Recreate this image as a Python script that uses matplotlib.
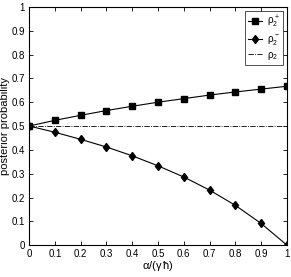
import numpy as np
import matplotlib.pyplot as plt

x = [0, 0.1, 0.2, 0.3, 0.4, 0.5, 0.6, 0.7, 0.8, 0.9, 1.0]
rho_plus = [0.5, 0.524, 0.545, 0.565, 0.583, 0.6, 0.615, 0.63, 0.643, 0.655, 0.667]
rho_minus = [0.5, 0.474, 0.444, 0.412, 0.375, 0.333, 0.286, 0.231, 0.167, 0.091, 0.0]
rho_half = [0.5] * len(x)
ticks = [0, 0.1, 0.2, 0.3, 0.4, 0.5, 0.6, 0.7, 0.8, 0.9, 1]
tick_labels = ['0', '0.1', '0.2', '0.3', '0.4', '0.5', '0.6', '0.7', '0.8', '0.9', '1']

plt.rcParams['font.family'] = ['Liberation Sans', 'DejaVu Sans']
plt.rcParams['mathtext.fontset'] = 'custom'
plt.rcParams['mathtext.rm'] = 'Liberation Sans'
plt.rcParams['mathtext.it'] = 'Liberation Sans'
fig = plt.figure(figsize=(2.91, 2.77), dpi=100)
ax = fig.add_axes([0.1, 0.115, 0.886, 0.86])

ax.plot(x, rho_plus, 'k-', marker='s', markersize=3.8, linewidth=0.8, label=r'$\rho_2^+$')
ax.plot(x, rho_minus, 'k-', marker='d', markersize=4.5, linewidth=0.8, label=r'$\rho_2^-$')
ax.plot(x, rho_half, color='k', linestyle='-.', linewidth=0.6, label=r'$\rho_2$')

ax.set_xlim(0, 1)
ax.set_ylim(0, 1)
ax.set_xticks(ticks)
ax.set_xticklabels(tick_labels)
ax.set_yticks(ticks)
ax.set_yticklabels(tick_labels)
ax.tick_params(direction='in', length=3, width=0.6, labelsize=7, pad=3,
               top=True, right=True)
for s in ax.spines.values():
    s.set_linewidth(0.8)

ax.set_xlabel(r'$\alpha/(\gamma\,\hbar)$', fontsize=8, labelpad=0)
ax.set_ylabel('posterior probability', fontsize=8, labelpad=1)

leg = ax.legend(loc='upper right', fontsize=7, frameon=True, fancybox=False,
                edgecolor='k', handlelength=1.5, borderpad=0.3, labelspacing=0.3,
                handletextpad=0.5, borderaxespad=0.4)
leg.get_frame().set_linewidth(0.6)

fig.savefig('out.png', dpi=100)
